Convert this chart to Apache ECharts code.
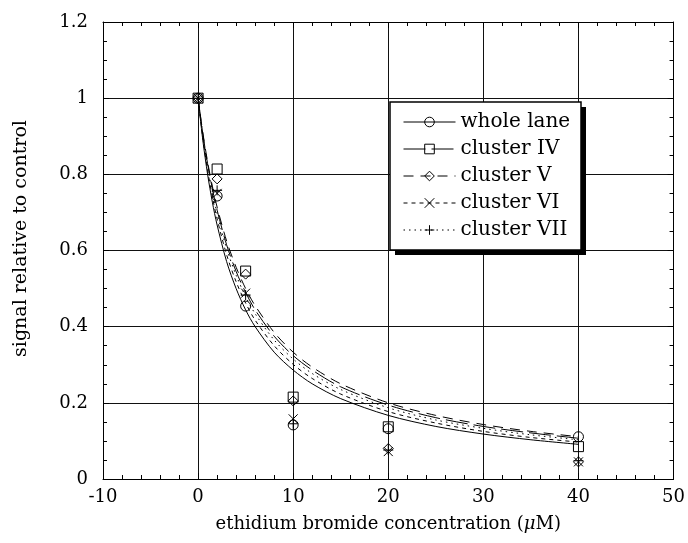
<!DOCTYPE html>
<html>
<head>
<meta charset="utf-8">
<script src="https://cdn.jsdelivr.net/npm/echarts@6/dist/echarts.min.js"></script>
<style>
html,body{margin:0;padding:0;background:#fff;}
#chart{width:688px;height:543px;}
</style>
</head>
<body>
<div id="chart"></div>
<script>
// ---- data ----
const concentrations = [0, 2, 5, 10, 20, 40];
const wholeLane  = [1, 0.743, 0.454, 0.142, 0.132, 0.111];
const clusterIV  = [1, 0.814, 0.546, 0.215, 0.137, 0.085];
const clusterV   = [1, 0.788, 0.538, 0.205, 0.080, 0.045];
const clusterVI  = [1, 0.750, 0.488, 0.158, 0.072, 0.045];
const clusterVII = [1, 0.758, 0.483, 0.145, 0.076, 0.048];

// fitted curves, sampled by eye from the reference
const curveX = [0, 0.5, 1, 1.5, 2, 3, 4, 5, 6, 8, 10, 12, 15, 20, 25, 30, 35, 40];
const curveWhole = [1, 0.889, 0.800, 0.727, 0.667, 0.571, 0.500, 0.444, 0.400, 0.333, 0.286, 0.250, 0.211, 0.167, 0.138, 0.118, 0.103, 0.091];
const curveIV    = [1, 0.906, 0.828, 0.762, 0.706, 0.615, 0.545, 0.490, 0.444, 0.375, 0.324, 0.286, 0.242, 0.194, 0.161, 0.138, 0.121, 0.107];
const curveV     = [1, 0.909, 0.833, 0.769, 0.714, 0.625, 0.556, 0.500, 0.455, 0.385, 0.333, 0.294, 0.250, 0.200, 0.167, 0.143, 0.125, 0.111];
const curveVI    = [1, 0.896, 0.811, 0.741, 0.683, 0.589, 0.518, 0.462, 0.417, 0.350, 0.301, 0.264, 0.223, 0.177, 0.147, 0.125, 0.109, 0.097];
const curveVII   = [1, 0.902, 0.821, 0.754, 0.697, 0.605, 0.535, 0.479, 0.434, 0.365, 0.315, 0.277, 0.235, 0.187, 0.155, 0.133, 0.116, 0.103];

const seriesNames = ['whole lane', 'cluster IV', 'cluster V', 'cluster VI', 'cluster VII'];
const xTickLabels = ['-10', '0', '10', '20', '30', '40', '50'];
const yTickLabels = ['0', '0.2', '0.4', '0.6', '0.8', '1', '1.2'];

// ---- styles ----
const FONT = 'DejaVu Serif';
const markers = [
  'circle',
  'rect',
  'diamond',
  'path://M0,0L10,10M0,10L10,0',
  'path://M5,0L5,10M0,5L10,5'
];
const markerSizes = [10, 10, 10, 9, 10];
const dashTypes = ['solid', [22, 6], [10, 7], [4, 4], [1.5, 4]];

const pointsData = [wholeLane, clusterIV, clusterV, clusterVI, clusterVII];
const curvesData = [curveWhole, curveIV, curveV, curveVI, curveVII];

const series = [];
seriesNames.forEach((name, i) => {
  series.push({
    name: name,
    type: 'line',
    smooth: 0.3,
    symbol: markers[i],
    symbolSize: markerSizes[i],
    showSymbol: false,
    silent: true,
    z: 2,
    lineStyle: {color: '#000', width: 1, type: dashTypes[i]},
    itemStyle: {color: 'transparent', borderColor: '#000', borderWidth: 1},
    data: curveX.map((x, j) => [x, curvesData[i][j]])
  });
});
seriesNames.forEach((name, i) => {
  series.push({
    name: name + ' data',
    type: 'scatter',
    symbol: markers[i],
    symbolSize: markerSizes[i],
    z: 3,
    itemStyle: {color: 'transparent', borderColor: '#000', borderWidth: 1, opacity: 1},
    data: concentrations.map((x, j) => [x, pointsData[i][j]])
  });
});

const axisCommonX = {
  type: 'value', min: -10, max: 50, interval: 10,
  axisLine: {show: true, onZero: false, lineStyle: {color: '#000', width: 1}},
  axisTick: {show: true, inside: true, length: 6, lineStyle: {color: '#000'}},
  minorTick: {show: true, splitNumber: 5, length: 4, lineStyle: {color: '#000'}}
};
const axisCommonY = {
  type: 'value', min: 0, max: 1.2, interval: 0.2,
  axisLine: {show: true, onZero: false, lineStyle: {color: '#000', width: 1}},
  axisTick: {show: true, inside: true, length: 6, lineStyle: {color: '#000'}},
  minorTick: {show: true, splitNumber: 4, length: 4, lineStyle: {color: '#000'}}
};

const chart = echarts.init(document.getElementById('chart'), null, {renderer: 'canvas'});
chart.setOption({
  animation: false,
  backgroundColor: '#fff',
  grid: {left: 103, right: 13, top: 22, bottom: 64, containLabel: false},
  xAxis: [
    Object.assign({}, axisCommonX, {
      position: 'bottom',
      axisLabel: {
        color: '#000', fontFamily: FONT, fontSize: 18, margin: 9,
        formatter: (v) => xTickLabels[Math.round((v + 10) / 10)]
      },
      splitLine: {show: true, lineStyle: {color: '#111', width: 1}},
      name: 'ethidium bromide concentration ({i|μ}M)',
      nameLocation: 'middle',
      nameGap: 36,
      nameTextStyle: {
        color: '#000', fontFamily: FONT, fontSize: 18,
        rich: {i: {fontStyle: 'italic', fontFamily: FONT, fontSize: 18, color: '#000'}}
      }
    }),
    Object.assign({}, axisCommonX, {
      position: 'top', axisLabel: {show: false}, splitLine: {show: false}
    })
  ],
  yAxis: [
    Object.assign({}, axisCommonY, {
      position: 'left',
      axisLabel: {
        color: '#000', fontFamily: FONT, fontSize: 18, margin: 15,
        formatter: (v) => yTickLabels[Math.round(v / 0.2)]
      },
      splitLine: {show: true, lineStyle: {color: '#111', width: 1}},
      name: 'signal relative to control',
      nameLocation: 'middle',
      nameGap: 72,
      nameTextStyle: {color: '#000', fontFamily: FONT, fontSize: 19, padding: [0, 0, 0, 24]}
    }),
    Object.assign({}, axisCommonY, {
      position: 'right', axisLabel: {show: false}, splitLine: {show: false}
    })
  ],
  legend: {
    data: seriesNames,
    orient: 'vertical',
    left: 403,
    top: 112,
    padding: 0,
    itemWidth: 52,
    itemHeight: 12,
    itemGap: 7,
    z: 20,
    selectedMode: false,
    textStyle: {color: '#000', fontFamily: FONT, fontSize: 20, lineHeight: 20},
    itemStyle: {color: 'transparent', borderColor: '#000', borderWidth: 1},
    lineStyle: {color: '#000', width: 1}
  },
  graphic: [
    {type: 'rect', z: 10, silent: true, shape: {x: 395, y: 107, width: 191, height: 148},
     style: {fill: '#000'}},
    {type: 'rect', z: 11, silent: true, shape: {x: 390, y: 102, width: 191, height: 148},
     style: {fill: '#fff', stroke: '#000', lineWidth: 1.5}}
  ],
  series: series
});
</script>
</body>
</html>
